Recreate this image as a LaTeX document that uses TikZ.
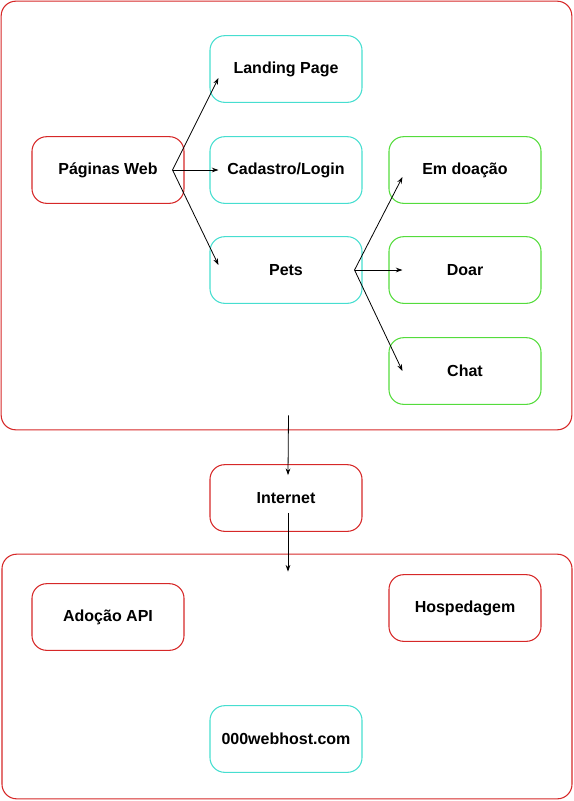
\documentclass[tikz,border=0pt]{standalone}
\usepackage{fontspec}
\setmainfont{Liberation Sans}
\usetikzlibrary{calc,arrows.meta}

\definecolor{boxred}{RGB}{214,40,40}
\definecolor{boxcyan}{RGB}{70,222,208}
\definecolor{boxgreen}{RGB}{84,220,60}

\begin{document}
\begin{tikzpicture}[x=0.75pt,y=-0.75pt,>={Stealth[length=5pt,width=3.5pt]},
                line width=0.6pt,
                main node/.style={rectangle,rounded corners=11pt,draw,line width=0.8pt,
                  minimum width=114pt,minimum height=50pt,font=\bfseries\fontsize{12}{14}\selectfont},
                panel/.style={rectangle,rounded corners=11pt,draw=boxred,line width=0.8pt,inner sep=0pt}]
	\useasboundingbox (0,0) rectangle (574,801);

	\node[panel,minimum width=428pt,minimum height=321.5pt] (front) at (286.5,215.5) {};
	\node[panel,minimum width=427.5pt,minimum height=183.5pt] (back) at (287,676.5) {};

	\node[main node,draw=boxred] (web) at (108,170) {Páginas Web};
	\node[main node,draw=boxcyan] (landing) at (286,69) {Landing Page};
	\node[main node,draw=boxcyan] (login) at (286,170) {Cadastro/Login};
	\node[main node,draw=boxcyan] (pets) at (286,270) {Pets};
	\node[main node,draw=boxgreen] (emdoacao) at (465,170) {Em doação};
	\node[main node,draw=boxgreen] (doar) at (465,270) {Doar};
	\node[main node,draw=boxgreen] (chat) at (465,371) {Chat};
	\node[main node,draw=boxred] (internet) at (286,498) {Internet};
	\node[main node,draw=boxred] (api) at (108,617) {Adoção API};
	\node[main node,draw=boxred] (host) at (465,608) {Hospedagem};
	\node[main node,draw=boxcyan] (webhost) at (286,739) {000webhost.com};

	\coordinate (webout) at ($(web.east)+(-12,0)$);
	\coordinate (petsout) at ($(pets.east)+(-8,0)$);

	\draw[->] (webout) -- ($(landing.west)+(9,9)$);
	\draw[->] (webout) -- ($(login.west)+(9,0)$);
	\draw[->] (webout) -- ($(pets.west)+(9,-5)$);
	\draw[->] (petsout) -- ($(emdoacao.west)+(14,7)$);
	\draw[->] (petsout) -- ($(doar.west)+(14,0)$);
	\draw[->] (petsout) -- ($(chat.west)+(14,0)$);

	\draw[->] ($(front.south)+(2,-15)$) -- ($(internet.north)+(2,11)$);
	\draw[->] ($(internet.south)+(2,-19)$) -- ($(back.north)+(1,18)$);

\end{tikzpicture}
\end{document}
